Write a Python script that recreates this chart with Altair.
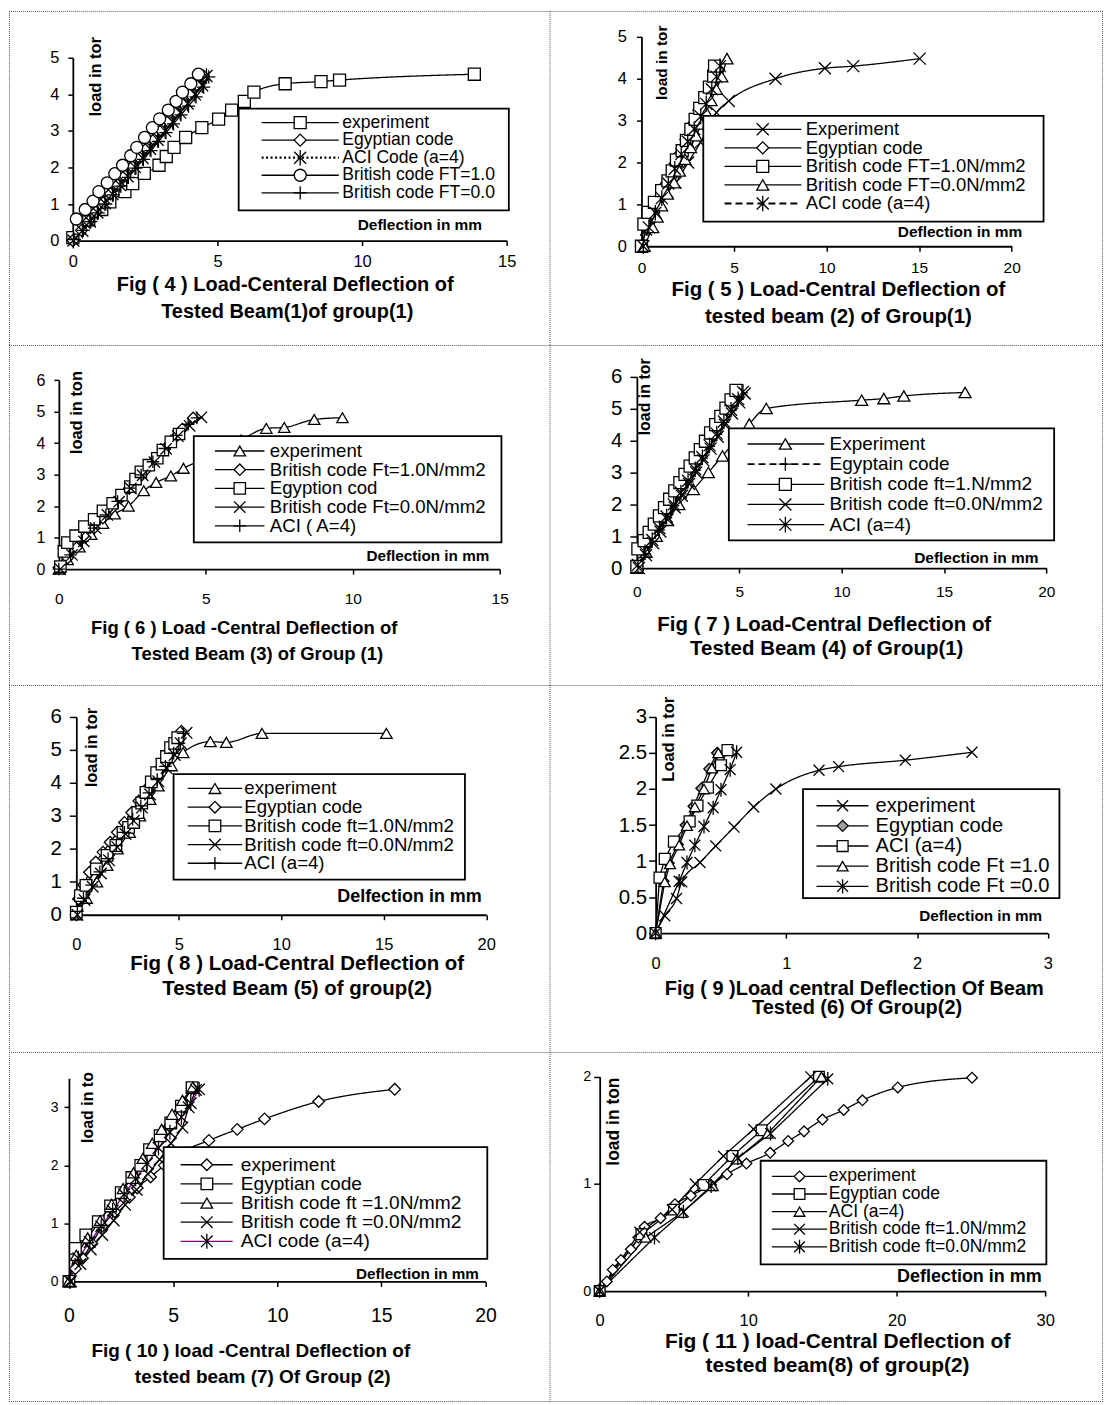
import altair as alt
import pandas as pd

FONT = "Liberation Sans"
K, W, G, P = "black", "white", "#a0a0a0", "#800080"
SOLID, DOT, DASH = [1, 0], [2, 2.5], [7, 4]
SQ, DI, CI, TR = "square", "diamond", "circle", "triangle-up"
XM = "M-1,-1L1,1M-1,1L1,-1"
PL = "M-1.1,0L1.1,0M0,-1.1L0,1.1"
ST = "M-1,-1L1,1M-1,1L1,-1M0,-1.3L0,1.3"

# ---------------- Fig 4 ----------------
F4_NAMES = ["experiment", "Egyptian code", "ACI Code (a=4)", "British code FT=1.0", "British code FT=0.0"]
F4_CAP = ["Fig ( 4 ) Load-Centeral Deflection of", "Tested Beam(1)of group(1)"]
F4_XTICKS = [0, 5, 10, 15]
F4_YTICKS = [0, 1, 2, 3, 4, 5]
F4_EXP_X = [0, 0.23, 0.55, 1.0, 1.28, 1.8, 2.07, 2.47, 2.98, 3.23, 3.5, 3.9, 4.46, 5.04, 5.49, 5.93, 6.26, 7.34, 8.58, 9.22, 13.88]
F4_EXP_Y = [0.08, 0.34, 0.57, 0.85, 1.06, 1.34, 1.56, 1.84, 2.06, 2.3, 2.55, 2.82, 3.09, 3.32, 3.57, 3.81, 4.06, 4.29, 4.35, 4.39, 4.55]
F4_EGY_X = [0, 0.3, 0.55, 0.8, 1.05, 1.3, 1.55, 1.8, 2.05, 2.3, 2.55, 2.8, 3.05, 3.3, 3.55, 3.8, 4.05, 4.3, 4.52]
F4_EGY_Y = [0, 0.28, 0.53, 0.78, 1.03, 1.28, 1.52, 1.77, 2.02, 2.27, 2.52, 2.76, 3.01, 3.26, 3.51, 3.76, 4.0, 4.25, 4.5]
F4_ACI_X = [0.02, 0.33, 0.59, 0.85, 1.11, 1.37, 1.63, 1.89, 2.15, 2.41, 2.67, 2.93, 3.19, 3.45, 3.71, 3.97, 4.22, 4.47, 4.62]
F4_ACI_Y = [0, 0.27, 0.52, 0.77, 1.02, 1.27, 1.52, 1.76, 2.01, 2.26, 2.51, 2.76, 3.0, 3.25, 3.5, 3.75, 4.0, 4.25, 4.5]
F4_BR1_X = [0.12, 0.43, 0.70, 0.9, 1.19, 1.45, 1.72, 2.0, 2.21, 2.48, 2.75, 3.0, 3.3, 3.57, 3.79, 4.08, 4.34]
F4_BR1_Y = [0.59, 0.85, 1.08, 1.34, 1.58, 1.83, 2.06, 2.32, 2.55, 2.82, 3.09, 3.33, 3.57, 3.81, 4.06, 4.29, 4.55]
F4_BR0_X = [0.05, 0.36, 0.62, 0.88, 1.14, 1.4, 1.66, 1.92, 2.18, 2.44, 2.7, 2.96, 3.22, 3.48, 3.74, 4.0, 4.26, 4.52, 4.7]
F4_BR0_Y = [0.03, 0.28, 0.52, 0.76, 1.0, 1.25, 1.49, 1.73, 1.98, 2.22, 2.46, 2.71, 2.95, 3.19, 3.44, 3.68, 3.93, 4.2, 4.48]

# ---------------- Fig 5 ----------------
F5_NAMES = ["Experiment", "Egyptian code", "British code FT=1.0N/mm2", "British code FT=0.0N/mm2", "ACI code (a=4)"]
F5_CAP = ["Fig ( 5 ) Load-Central Deflection of", "tested beam (2) of Group(1)"]
F5_XTICKS = [0, 5, 10, 15, 20]
F5_YTICKS = [0, 1, 2, 3, 4, 5]
F5_EXP_X = [0, 0.25, 0.6, 1.0, 1.4, 1.85, 2.52, 3.19, 4.05, 4.72, 7.24, 9.91, 11.44, 15.03]
F5_EXP_Y = [0, 0.4, 0.75, 1.05, 1.3, 1.52, 2.0, 2.48, 3.19, 3.47, 4.0, 4.25, 4.3, 4.48]
F5_EGY_X = [0, 0.3, 0.65, 1.0, 1.35, 1.7, 2.05, 2.4, 2.75, 3.1, 3.45, 3.8, 4.15]
F5_EGY_Y = [0, 0.45, 0.8, 1.15, 1.5, 1.85, 2.2, 2.55, 2.9, 3.25, 3.6, 3.9, 4.22]
F5_BR1_X = [0, 0.13, 0.36, 0.7, 1.09, 1.43, 1.66, 1.89, 2.2, 2.43, 2.67, 2.9, 3.15, 3.42, 3.67, 3.9, 3.95]
F5_BR1_Y = [0, 0.53, 0.81, 1.05, 1.33, 1.56, 1.8, 2.06, 2.28, 2.53, 2.79, 3.03, 3.29, 3.55, 3.8, 4.06, 4.3]
F5_BR0_X = [0.15, 0.61, 0.85, 1.09, 1.4, 1.76, 2.05, 2.35, 2.65, 2.95, 3.25, 3.5, 3.76, 4.05, 4.34, 4.62]
F5_BR0_Y = [0, 0.45, 0.7, 0.97, 1.25, 1.52, 1.8, 2.08, 2.36, 2.64, 2.92, 3.2, 3.48, 3.75, 4.05, 4.48]
F5_ACI_X = [0.1, 0.4, 0.75, 1.1, 1.45, 1.8, 2.15, 2.5, 2.85, 3.2, 3.5, 3.8, 4.05, 4.24]
F5_ACI_Y = [0, 0.45, 0.8, 1.15, 1.5, 1.85, 2.2, 2.5, 2.8, 3.1, 3.4, 3.75, 4.05, 4.3]

# ---------------- Fig 6 ----------------
F6_NAMES = ["experiment", "British code Ft=1.0N/mm2", "Egyption cod", "British code Ft=0.0N/mm2", "ACI ( A=4)"]
F6_CAP = ["Fig ( 6 ) Load -Central Deflection of", "Tested Beam (3) of Group (1)"]
F6_XTICKS = [0, 5, 10, 15]
F6_YTICKS = [0, 1, 2, 3, 4, 5, 6]
F6_EXP_X = [0, 0.3, 0.7, 1.1, 1.5, 1.9, 2.37, 2.89, 3.31, 3.81, 4.24, 5.2, 6.2, 7.06, 7.67, 8.69, 9.65]
F6_EXP_Y = [0, 0.3, 0.7, 1.1, 1.45, 1.75, 2.0, 2.49, 2.75, 2.96, 3.2, 3.6, 4.1, 4.47, 4.5, 4.75, 4.81]
F6_BR1_X = [0, 0.3, 0.6, 0.9, 1.2, 1.5, 1.8, 2.1, 2.4, 2.7, 3.0, 3.3, 3.6, 3.9, 4.2, 4.57]
F6_BR1_Y = [0.05, 0.35, 0.68, 1.0, 1.3, 1.62, 1.93, 2.25, 2.56, 2.87, 3.18, 3.5, 3.81, 4.12, 4.45, 4.8]
F6_EGY_X = [0.05, 0.17, 0.29, 0.57, 0.87, 1.2, 1.5, 1.83, 2.13, 2.43, 2.61, 2.79, 3.06, 3.35, 3.54, 3.81, 4.09]
F6_EGY_Y = [0.08, 0.56, 0.84, 1.06, 1.35, 1.58, 1.85, 2.09, 2.35, 2.62, 2.86, 3.09, 3.3, 3.52, 3.78, 4.04, 4.29]
F6_BR0_X = [0.05, 0.45, 0.85, 1.25, 1.65, 2.05, 2.45, 2.85, 3.25, 3.65, 4.05, 4.45, 4.85]
F6_BR0_Y = [0, 0.45, 0.88, 1.3, 1.72, 2.14, 2.56, 2.98, 3.4, 3.82, 4.22, 4.55, 4.82]
F6_ACI_X = [0, 0.4, 0.8, 1.2, 1.6, 2.0, 2.4, 2.8, 3.2, 3.6, 4.0, 4.4, 4.7]
F6_ACI_Y = [0, 0.45, 0.88, 1.3, 1.72, 2.15, 2.57, 2.99, 3.41, 3.83, 4.25, 4.6, 4.8]

# ---------------- Fig 7 ----------------
F7_NAMES = ["Experiment", "Egyptain code", "British code ft=1.N/mm2", "British code ft=0.0N/mm2", "ACI (a=4)"]
F7_CAP = ["Fig ( 7 ) Load-Central Deflection of", "Tested Beam (4) of Group(1)"]
F7_XTICKS = [0, 5, 10, 15, 20]
F7_YTICKS = [0, 1, 2, 3, 4, 5, 6]
F7_EXP_X = [0, 0.45, 0.95, 1.5, 2.05, 2.76, 3.49, 4.18, 4.85, 5.49, 6.32, 10.98, 12.06, 13.04, 16.03]
F7_EXP_Y = [0, 0.5, 1.0, 1.5, 2.0, 2.47, 3.0, 3.52, 4.02, 4.52, 5.01, 5.27, 5.32, 5.4, 5.51]
F7_EGY_X = [0, 0.35, 0.7, 1.05, 1.4, 1.75, 2.1, 2.45, 2.8, 3.15, 3.5, 3.85, 4.2, 4.55, 4.9, 5.1]
F7_EGY_Y = [0.05, 0.45, 0.83, 1.2, 1.58, 1.95, 2.33, 2.7, 3.07, 3.45, 3.82, 4.2, 4.57, 4.95, 5.3, 5.5]
F7_BR1_X = [0, 0.05, 0.35, 0.6, 0.85, 1.1, 1.35, 1.6, 1.85, 2.1, 2.35, 2.6, 2.85, 3.1, 3.35, 3.6, 3.85, 4.1, 4.35, 4.6, 4.84]
F7_BR1_Y = [0.05, 0.6, 0.86, 1.12, 1.38, 1.64, 1.9, 2.16, 2.42, 2.68, 2.94, 3.2, 3.46, 3.72, 3.98, 4.24, 4.5, 4.76, 5.02, 5.28, 5.58]
F7_BR0_X = [0.1, 0.45, 0.8, 1.15, 1.5, 1.85, 2.2, 2.55, 2.9, 3.25, 3.6, 3.95, 4.3, 4.65, 5.0, 5.27]
F7_BR0_Y = [0, 0.4, 0.78, 1.15, 1.52, 1.9, 2.27, 2.64, 3.0, 3.38, 3.75, 4.12, 4.5, 4.85, 5.2, 5.48]
F7_ACI_X = [0.05, 0.4, 0.75, 1.1, 1.45, 1.8, 2.15, 2.5, 2.85, 3.2, 3.55, 3.9, 4.25, 4.6, 4.95, 5.18]
F7_ACI_Y = [0.1, 0.5, 0.88, 1.25, 1.62, 2.0, 2.37, 2.74, 3.1, 3.48, 3.85, 4.22, 4.6, 4.97, 5.3, 5.53]

# ---------------- Fig 8 ----------------
F8_NAMES = ["experiment", "Egyptian code", "British code ft=1.0N/mm2", "British code ft=0.0N/mm2", "ACI (a=4)"]
F8_CAP = ["Fig ( 8 ) Load-Central Deflection of", "Tested Beam (5) of group(2)"]
F8_XTICKS = [0, 5, 10, 15, 20]
F8_YTICKS = [0, 1, 2, 3, 4, 5, 6]
F8_EXP_X = [0, 0.5, 1.0, 1.5, 2.0, 2.6, 3.1, 3.6, 4.0, 4.64, 5.21, 6.54, 7.32, 9.06, 15.13]
F8_EXP_Y = [0, 0.5, 1.0, 1.5, 2.0, 2.5, 3.0, 3.5, 3.91, 4.52, 4.92, 5.25, 5.23, 5.5, 5.5]
F8_EGY_X = [0, 0.1, 0.35, 0.64, 0.95, 1.3, 1.65, 2.0, 2.35, 2.7, 3.05, 3.4, 3.75, 4.1, 4.45, 4.8, 5.13]
F8_EGY_Y = [0, 0.48, 0.9, 1.29, 1.6, 1.9, 2.2, 2.5, 2.8, 3.1, 3.45, 3.8, 4.1, 4.45, 4.8, 5.15, 5.57]
F8_BR1_X = [0, 0.2, 0.47, 0.98, 1.5, 1.93, 2.28, 2.55, 2.8, 3.0, 3.19, 3.4, 3.66, 3.92, 4.18, 4.4, 4.6, 4.8, 4.95]
F8_BR1_Y = [0.08, 0.58, 0.89, 1.39, 1.8, 2.1, 2.5, 2.65, 2.8, 3.1, 3.39, 3.71, 4.03, 4.31, 4.57, 4.8, 5.07, 5.2, 5.37]
F8_BR0_X = [0.05, 0.4, 0.8, 1.2, 1.6, 2.0, 2.4, 2.8, 3.2, 3.6, 4.0, 4.4, 4.8, 5.1, 5.38]
F8_BR0_Y = [0, 0.45, 0.85, 1.25, 1.65, 2.05, 2.45, 2.85, 3.25, 3.65, 4.05, 4.45, 4.85, 5.2, 5.52]
F8_ACI_X = [0.05, 0.35, 0.75, 1.15, 1.55, 1.95, 2.35, 2.75, 3.15, 3.55, 3.95, 4.35, 4.75, 5.0, 5.22]
F8_ACI_Y = [0.1, 0.5, 0.9, 1.3, 1.7, 2.1, 2.5, 2.9, 3.3, 3.7, 4.1, 4.5, 4.9, 5.2, 5.5]

# ---------------- Fig 9 ----------------
F9_NAMES = ["experiment", "Egyptian code", "ACI (a=4)", "British code Ft =1.0", "British code Ft =0.0"]
F9_CAP = ["Fig ( 9 )Load central Deflection Of Beam", "Tested (6) Of Group(2)"]
F9_XTICKS = [0, 1, 2, 3]
F9_YTICKS = [0, 0.5, 1, 1.5, 2, 2.5, 3]
F9_EXP_X = [0, 0.07, 0.16, 0.2, 0.34, 0.46, 0.6, 0.75, 0.92, 1.25, 1.4, 1.91, 2.42]
F9_EXP_Y = [0, 0.24, 0.48, 0.71, 0.98, 1.21, 1.47, 1.75, 2.0, 2.26, 2.31, 2.4, 2.51]
F9_EGY_X = [0, 0.06, 0.1, 0.17, 0.23, 0.29, 0.35, 0.41, 0.47]
F9_EGY_Y = [0, 0.72, 0.97, 1.23, 1.5, 1.76, 2.01, 2.28, 2.5]
F9_ACI_X = [0, 0.03, 0.07, 0.14, 0.26, 0.32, 0.4, 0.5, 0.55]
F9_ACI_Y = [0, 0.77, 1.03, 1.27, 1.55, 1.77, 2.02, 2.33, 2.54]
F9_BR1_X = [0, 0.07, 0.11, 0.18, 0.24, 0.3, 0.37, 0.43, 0.48]
F9_BR1_Y = [0, 0.71, 0.96, 1.22, 1.49, 1.75, 2.0, 2.29, 2.5]
F9_BR0_X = [0, 0.18, 0.24, 0.3, 0.37, 0.44, 0.5, 0.57, 0.62]
F9_BR0_Y = [0, 0.72, 0.98, 1.22, 1.48, 1.74, 1.99, 2.27, 2.51]

# ---------------- Fig 10 ----------------
F10_NAMES = ["experiment", "Egyptian code", "British code ft =1.0N/mm2", "British code ft =0.0N/mm2", "ACI code (a=4)"]
F10_CAP = ["Fig ( 10 ) load -Central Deflection of", "tested beam (7) Of Group (2)"]
F10_XTICKS = [0, 5, 10, 15, 20]
F10_YTICKS = [0, 1, 2, 3]
F10_EXP_X = [0, 0.31, 0.65, 1.1, 1.6, 2.2, 2.9, 3.28, 3.92, 4.58, 5.3, 6.72, 8.08, 9.39, 11.99, 15.64]
F10_EXP_Y = [0, 0.22, 0.4, 0.65, 0.95, 1.2, 1.45, 1.61, 1.8, 2.0, 2.2, 2.43, 2.62, 2.8, 3.1, 3.31]
F10_EGY_X = [0, 0.31, 0.81, 1.41, 2.0, 2.51, 3.02, 3.45, 3.87, 4.38, 4.89, 5.4, 5.91]
F10_EGY_Y = [0, 0.57, 0.8, 1.03, 1.3, 1.53, 1.79, 2.0, 2.27, 2.51, 2.73, 3.02, 3.34]
F10_BR1_X = [0, 0.35, 0.9, 1.5, 2.05, 2.6, 3.1, 3.55, 4.0, 4.45, 4.95, 5.45, 5.95]
F10_BR1_Y = [0, 0.45, 0.75, 1.05, 1.33, 1.6, 1.87, 2.12, 2.38, 2.62, 2.88, 3.12, 3.35]
F10_BR0_X = [0.1, 0.55, 1.05, 1.6, 2.15, 2.7, 3.25, 3.8, 4.35, 4.9, 5.45, 5.75, 6.1]
F10_BR0_Y = [0, 0.3, 0.55, 0.8, 1.05, 1.32, 1.58, 1.85, 2.1, 2.38, 2.65, 3.0, 3.3]
F10_ACI_X = [0.05, 0.45, 1.0, 1.55, 2.1, 2.65, 3.2, 3.75, 4.3, 4.85, 5.4, 5.85, 6.25]
F10_ACI_Y = [0, 0.4, 0.68, 0.95, 1.22, 1.5, 1.77, 2.03, 2.3, 2.57, 2.83, 3.07, 3.31]

# ---------------- Fig 11 ----------------
F11_NAMES = ["experiment", "Egyptian code", "ACI (a=4)", "British code ft=1.0N/mm2", "British code ft=0.0N/mm2"]
F11_CAP = ["Fig ( 11 ) load-Central Deflection of", "tested beam(8) of group(2)"]
F11_XTICKS = [0, 10, 20, 30]
F11_YTICKS = [0, 1, 2]
F11_EXP_X = [0, 0.48, 0.88, 1.43, 2.1, 2.6, 3.02, 4.1, 5.07, 6.14, 7.5, 8.57, 9.88, 11.48, 12.69, 13.76, 15.0, 16.43, 17.69, 20.07, 25.07]
F11_EXP_Y = [0.02, 0.09, 0.2, 0.29, 0.39, 0.5, 0.6, 0.68, 0.81, 0.89, 0.99, 1.09, 1.19, 1.29, 1.4, 1.49, 1.6, 1.69, 1.78, 1.9, 1.99]
F11_EGY_X = [0, 2.81, 5.0, 6.98, 8.93, 10.9, 14.76]
F11_EGY_Y = [0, 0.53, 0.76, 0.99, 1.26, 1.5, 2.0]
F11_ACI_X = [0, 3.1, 5.52, 7.62, 9.21, 11.31, 14.93]
F11_ACI_Y = [0, 0.5, 0.73, 0.98, 1.23, 1.47, 2.0]
F11_BR1_X = [0, 2.7, 4.88, 6.43, 8.33, 10.36, 14.21]
F11_BR1_Y = [0, 0.55, 0.76, 1.0, 1.26, 1.51, 2.0]
F11_BR0_X = [0, 3.69, 5.64, 7.5, 9.3, 11.5, 15.36]
F11_BR0_Y = [0, 0.5, 0.74, 0.98, 1.24, 1.47, 1.98]

SM = [True, False, False, False, False]
SW = [1.3, 1.3, 1.3, 1.3, 1.3]

PANELS = [
    dict(row=0, col=0, names=F4_NAMES,
         xs=[F4_EXP_X, F4_EGY_X, F4_ACI_X, F4_BR1_X, F4_BR0_X],
         ys=[F4_EXP_Y, F4_EGY_Y, F4_ACI_Y, F4_BR1_Y, F4_BR0_Y],
         markers=[SQ, DI, ST, CI, PL], fills=[W] * 5, colors=[K] * 5,
         dashes=[SOLID, SOLID, DOT, SOLID, SOLID], widths=[1.3, 1.3, 2.2, 1.3, 1.3], msize=145,
         xdom=[0, 15], xticks=F4_XTICKS, ydom=[0, 5], yticks=F4_YTICKS,
         xr=[64, 499.1], yr=[230.3, 47],
         yfs=16.5, ytick=5, ypad=9, xfs=16.5, xtick=5, xpad=16,
         box=[230.3, 501.2, 98, 200], leg=[253.3, 330.7, 292, 334.2], ly0=112, ldy=17.6, lfs=17.6,
         texts=[("load in tor", 87.7, 66, 16.5, 270), ("Deflection in mm", 412, 214.7, 15.5, 0),
                (F4_CAP[0], 277, 275.3, 20, 0), (F4_CAP[1], 279, 302, 20, 0)]),
    dict(row=0, col=1, names=F5_NAMES,
         xs=[F5_EXP_X, F5_EGY_X, F5_BR1_X, F5_BR0_X, F5_ACI_X],
         ys=[F5_EXP_Y, F5_EGY_Y, F5_BR1_Y, F5_BR0_Y, F5_ACI_Y],
         markers=[XM, DI, SQ, TR, ST], fills=[W] * 5, colors=[K] * 5,
         dashes=[SOLID, SOLID, SOLID, SOLID, DASH], widths=[1.3, 1.3, 1.3, 1.3, 2.2], msize=145,
         xdom=[0, 20], xticks=F5_XTICKS, ydom=[0, 5], yticks=F5_YTICKS,
         xr=[92.2, 463.4], yr=[236, 26],
         yfs=16.5, ytick=5, ypad=10, xfs=15.5, xtick=5, xpad=16.7,
         box=[154.2, 495.4, 105.3, 211.3], leg=[175.5, 252.5, 213.8, 257], ly0=118.7, ldy=18.6, lfs=18.5,
         texts=[("load in tor", 112.4, 52, 15.5, 270), ("Deflection in mm", 411.6, 222, 15.5, 0),
                (F5_CAP[0], 289.7, 280.3, 20.5, 0), (F5_CAP[1], 289.7, 307, 20.5, 0)]),
    dict(row=1, col=0, names=F6_NAMES,
         xs=[F6_EXP_X, F6_BR1_X, F6_EGY_X, F6_BR0_X, F6_ACI_X],
         ys=[F6_EXP_Y, F6_BR1_Y, F6_EGY_Y, F6_BR0_Y, F6_ACI_Y],
         markers=[TR, DI, SQ, XM, PL], fills=[W] * 5, colors=[K] * 5,
         dashes=[SOLID] * 5, widths=SW, msize=130,
         xdom=[0, 15], xticks=F6_XTICKS, ydom=[0, 6], yticks=F6_YTICKS,
         xr=[50, 492], yr=[224.7, 35.3],
         yfs=16, ytick=5, ypad=9, xfs=15.5, xtick=5, xpad=24.6,
         box=[185.3, 493.8, 91.3, 198], leg=[206.5, 256.2, 231.4, 261.5], ly0=106.3, ldy=18.75, lfs=18.7,
         texts=[("load in ton", 68.2, 67.8, 16.5, 270), ("Deflection in mm", 420, 211.3, 15.3, 0),
                (F6_CAP[0], 235.8, 283.7, 18.5, 0), (F6_CAP[1], 249, 310.3, 18.5, 0)]),
    dict(row=1, col=1, names=F7_NAMES,
         xs=[F7_EXP_X, F7_EGY_X, F7_BR1_X, F7_BR0_X, F7_ACI_X],
         ys=[F7_EXP_Y, F7_EGY_Y, F7_BR1_Y, F7_BR0_Y, F7_ACI_Y],
         markers=[TR, PL, SQ, XM, ST], fills=[W] * 5, colors=[K] * 5,
         dashes=[SOLID, DASH, SOLID, SOLID, SOLID], widths=[1.3, 1.6, 1.3, 1.3, 1.3], msize=145,
         xdom=[0, 20], xticks=F7_XTICKS, ydom=[0, 6], yticks=F7_YTICKS,
         xr=[87.6, 498.2], yr=[223.7, 32],
         yfs=20.5, ytick=7, ypad=8, xfs=15.5, xtick=5, xpad=18.3,
         box=[179.8, 506, 83.7, 196], leg=[198.6, 275.5, 236.5, 280.8], ly0=99.3, ldy=20.2, lfs=19,
         texts=[("load in tor", 96, 52, 16, 270), ("Deflection in mm", 428, 213.7, 15.5, 0),
                (F7_CAP[0], 275.5, 280.3, 20.5, 0), (F7_CAP[1], 278, 305.3, 20.5, 0)]),
    dict(row=2, col=0, names=F8_NAMES,
         xs=[F8_EXP_X, F8_EGY_X, F8_BR1_X, F8_BR0_X, F8_ACI_X],
         ys=[F8_EXP_Y, F8_EGY_Y, F8_BR1_Y, F8_BR0_Y, F8_ACI_Y],
         markers=[TR, DI, SQ, XM, PL], fills=[W] * 5, colors=[K] * 5,
         dashes=[SOLID] * 5, widths=SW, msize=135,
         xdom=[0, 20], xticks=F8_XTICKS, ydom=[0, 6], yticks=F8_YTICKS,
         xr=[67.5, 478.5], yr=[230.3, 32],
         yfs=20.5, ytick=7, ypad=8, xfs=16.5, xtick=5, xpad=25,
         box=[165, 457.2, 89.3, 195], leg=[179.2, 233.8, 206.5, 236], ly0=103.7, ldy=18.75, lfs=18.7,
         texts=[("load in tor", 83.5, 62.7, 16.5, 270), ("Delfection in mm", 401.6, 212.7, 18, 0),
                (F8_CAP[0], 289, 279.3, 20.5, 0), (F8_CAP[1], 289, 304.3, 20.5, 0)]),
    dict(row=2, col=1, names=F9_NAMES,
         xs=[F9_EXP_X, F9_EGY_X, F9_ACI_X, F9_BR1_X, F9_BR0_X],
         ys=[F9_EXP_Y, F9_EGY_Y, F9_ACI_Y, F9_BR1_Y, F9_BR0_Y],
         markers=[XM, DI, SQ, TR, ST], fills=[W, G, W, W, W], colors=[K] * 5,
         dashes=[SOLID] * 5, widths=SW, msize=120,
         xdom=[0, 3], xticks=F9_XTICKS, ydom=[0, 3], yticks=F9_YTICKS,
         xr=[106.4, 499.6], yr=[248.7, 32],
         yfs=20.5, ytick=7, ypad=2, xfs=16.5, xtick=5, xpad=25.6,
         box=[254.2, 511.3, 104.3, 213.7], leg=[267.7, 319.8, 293.9, 326.9], ly0=121, ldy=20.2, lfs=20.2,
         texts=[("Load in tor", 120.2, 54.3, 16.5, 270), ("Deflection in mm", 432.4, 231.7, 15.3, 0),
                (F9_CAP[0], 305.6, 304.3, 20, 0), (F9_CAP[1], 308.4, 324.3, 20, 0)]),
    dict(row=3, col=0, names=F10_NAMES,
         xs=[F10_EXP_X, F10_EGY_X, F10_BR1_X, F10_BR0_X, F10_ACI_X],
         ys=[F10_EXP_Y, F10_EGY_Y, F10_BR1_Y, F10_BR0_Y, F10_ACI_Y],
         markers=[DI, SQ, TR, XM, ST], fills=[W] * 5, colors=[K, K, K, K, P],
         dashes=[SOLID] * 5, widths=SW, msize=135,
         xdom=[0, 20], xticks=F10_XTICKS, ydom=[0, 3.5], yticks=F10_YTICKS,
         xr=[60.1, 477.8], yr=[230, 26.3],
         yfs=14, ytick=5, ypad=6, xfs=19.5, xtick=5, xpad=29,
         box=[155.1, 479.6, 95.3, 207.3], leg=[172.1, 224.3, 198.4, 232.4], ly0=113, ldy=19.2, lfs=19.2,
         texts=[("load in to", 78.9, 55.6, 16, 270), ("Deflection in mm", 409.6, 223, 15.3, 0),
                (F10_CAP[0], 242.5, 299.7, 19, 0), (F10_CAP[1], 254.4, 326.3, 19, 0)]),
    dict(row=3, col=1, names=F11_NAMES,
         xs=[F11_EXP_X, F11_EGY_X, F11_ACI_X, F11_BR1_X, F11_BR0_X],
         ys=[F11_EXP_Y, F11_EGY_Y, F11_ACI_Y, F11_BR1_Y, F11_BR0_Y],
         markers=[DI, SQ, TR, XM, ST], fills=[W] * 5, colors=[K] * 5,
         dashes=[SOLID] * 5, widths=SW, msize=115,
         xdom=[0, 30], xticks=F11_XTICKS, ydom=[0, 2], yticks=F11_YTICKS,
         xr=[50.3, 497.1], yr=[239.7, 24.7],
         yfs=14.5, ytick=6, ypad=3, xfs=16.5, xtick=5, xpad=24,
         box=[211.7, 498.2, 109, 213], leg=[223, 278.3, 250.7, 280], ly0=124.7, ldy=17.65, lfs=17.6,
         texts=[("load in ton", 64.5, 69.7, 17.5, 270), ("Deflection in mm", 421, 225.3, 18, 0),
                (F11_CAP[0], 288.9, 290.3, 21, 0), (F11_CAP[1], 288.8, 314.7, 21, 0)]),
]

CELL_W = [542, 555]
CELL_H = [335, 341, 368, 351]
ONE = pd.DataFrame({"k": [0]})


def cell(p):
    row, col = p["row"], p["col"]
    Wd, Ht = CELL_W[col], CELL_H[row]
    names = p["names"]
    recs = []
    for name, xs, ys, sm, sw in zip(names, p["xs"], p["ys"], SM, p["widths"]):
        for i, (xv, yv) in enumerate(zip(xs, ys)):
            recs.append({"series": name, "x": xv, "y": yv, "i": i, "smooth": sm, "sw": sw})
    df = pd.DataFrame(recs)

    shape = alt.Shape("series:N", scale=alt.Scale(domain=names, range=p["markers"]), legend=None)
    fill = alt.Fill("series:N", scale=alt.Scale(domain=names, range=p["fills"]), legend=None)
    color = alt.Color("series:N", scale=alt.Scale(domain=names, range=p["colors"]), legend=None)
    dash = alt.StrokeDash("series:N", scale=alt.Scale(domain=names, range=p["dashes"]), legend=None)
    swd = alt.StrokeWidth("sw:Q", scale=None, legend=None)

    xax = alt.Axis(values=p["xticks"], offset=p["yr"][0] - Ht, title=None, grid=False,
                   domainColor=K, domainWidth=1.8, tickColor=K, tickWidth=1.5, tickSize=p["xtick"],
                   labelFont=FONT, labelFontSize=p["xfs"], labelColor=K, labelPadding=p["xpad"],
                   labelBaseline="middle", labelExpr="'' + datum.value", labelFlush=False, labelOverlap=False)
    yax = alt.Axis(values=p["yticks"], offset=-p["xr"][0], title=None, grid=False,
                   domainColor=K, domainWidth=1.8, tickColor=K, tickWidth=1.5, tickSize=p["ytick"],
                   labelFont=FONT, labelFontSize=p["yfs"], labelColor=K, labelPadding=p["ypad"],
                   labelExpr="'' + datum.value", labelFlush=False, labelOverlap=False)
    X = alt.X("x:Q", scale=alt.Scale(domain=p["xdom"], range=p["xr"], nice=False, zero=False), axis=xax)
    Y = alt.Y("y:Q", scale=alt.Scale(domain=p["ydom"], range=p["yr"], nice=False, zero=False), axis=yax)

    base = alt.Chart(df)
    lines_s = base.transform_filter("datum.smooth").mark_line(interpolate="monotone").encode(
        x=X, y=Y, color=color, strokeDash=dash, strokeWidth=swd, detail="series:N", order="i:Q")
    lines_l = base.transform_filter("!datum.smooth").mark_line().encode(
        x=X, y=Y, color=color, strokeDash=dash, strokeWidth=swd, detail="series:N", order="i:Q")
    pts = base.mark_point(filled=True, size=p["msize"], stroke=K, strokeWidth=1.3, opacity=1).encode(
        x=X, y=Y, shape=shape, fill=fill)

    bx = p["box"]
    box = alt.Chart(ONE).mark_rect(fill=W, stroke=K, strokeWidth=1.8).encode(
        x=alt.value(bx[0]), x2=alt.value(bx[1]), y=alt.value(bx[2]), y2=alt.value(bx[3]))

    ldf = pd.DataFrame({"series": names,
                        "ly": [p["ly0"] + k * p["ldy"] for k in range(len(names))],
                        "sw": p["widths"]})
    ldf["lx1"], ldf["lx2"], ldf["mx"], ldf["tx"] = p["leg"]
    LY = alt.Y("ly:Q", scale=None, axis=None)
    lbase = alt.Chart(ldf)
    leg_lines = lbase.mark_rule().encode(
        x=alt.X("lx1:Q", scale=None, axis=None), x2="lx2:Q", y=LY,
        color=color, strokeDash=dash, strokeWidth=swd)
    leg_pts = lbase.mark_point(filled=True, size=p["msize"], stroke=K, strokeWidth=1.3, opacity=1).encode(
        x=alt.X("mx:Q", scale=None, axis=None), y=LY, shape=shape, fill=fill)
    leg_txt = lbase.mark_text(align="left", baseline="middle", font=FONT, fontSize=p["lfs"], color=K).encode(
        x=alt.X("tx:Q", scale=None, axis=None), y=LY, text="series:N")

    tdf = pd.DataFrame(p["texts"], columns=["text", "tx", "ty", "size", "ang"])
    labels = alt.Chart(tdf).mark_text(font=FONT, fontWeight="bold", align="center", baseline="middle", color=K).encode(
        x=alt.X("tx:Q", scale=None, axis=None), y=alt.Y("ty:Q", scale=None, axis=None),
        text="text:N", size=alt.Size("size:Q", scale=None, legend=None),
        angle=alt.Angle("ang:Q", scale=None, legend=None))

    segs = [(0, Wd, 0.5, 0.5), (0.5, 0.5, 0, Ht)]
    if col == 1:
        segs.append((Wd - 0.5, Wd - 0.5, 0, Ht))
    if row == 3:
        segs.append((0, Wd, Ht - 0.5, Ht - 0.5))
    bdf = pd.DataFrame(segs, columns=["x1", "x2", "y1", "y2"])
    borders = alt.Chart(bdf).mark_rule(color="#555555", strokeWidth=1, strokeDash=[1, 1]).encode(
        x=alt.X("x1:Q", scale=None, axis=None), x2="x2:Q",
        y=alt.Y("y1:Q", scale=None, axis=None), y2="y2:Q")

    return alt.layer(lines_s, lines_l, pts, box, leg_lines, leg_pts, leg_txt, labels, borders).properties(
        width=Wd, height=Ht)


ordered = sorted(PANELS, key=lambda p: (p["row"], p["col"]))
chart = alt.concat(*[cell(p) for p in ordered], columns=2, spacing=0, bounds="flush").resolve_scale(
    x="independent", y="independent", shape="independent", fill="independent",
    color="independent", strokeDash="independent").properties(padding=0).configure_view(stroke=None)

chart.save("out.html", embed_options={"renderer": "svg", "actions": False})
